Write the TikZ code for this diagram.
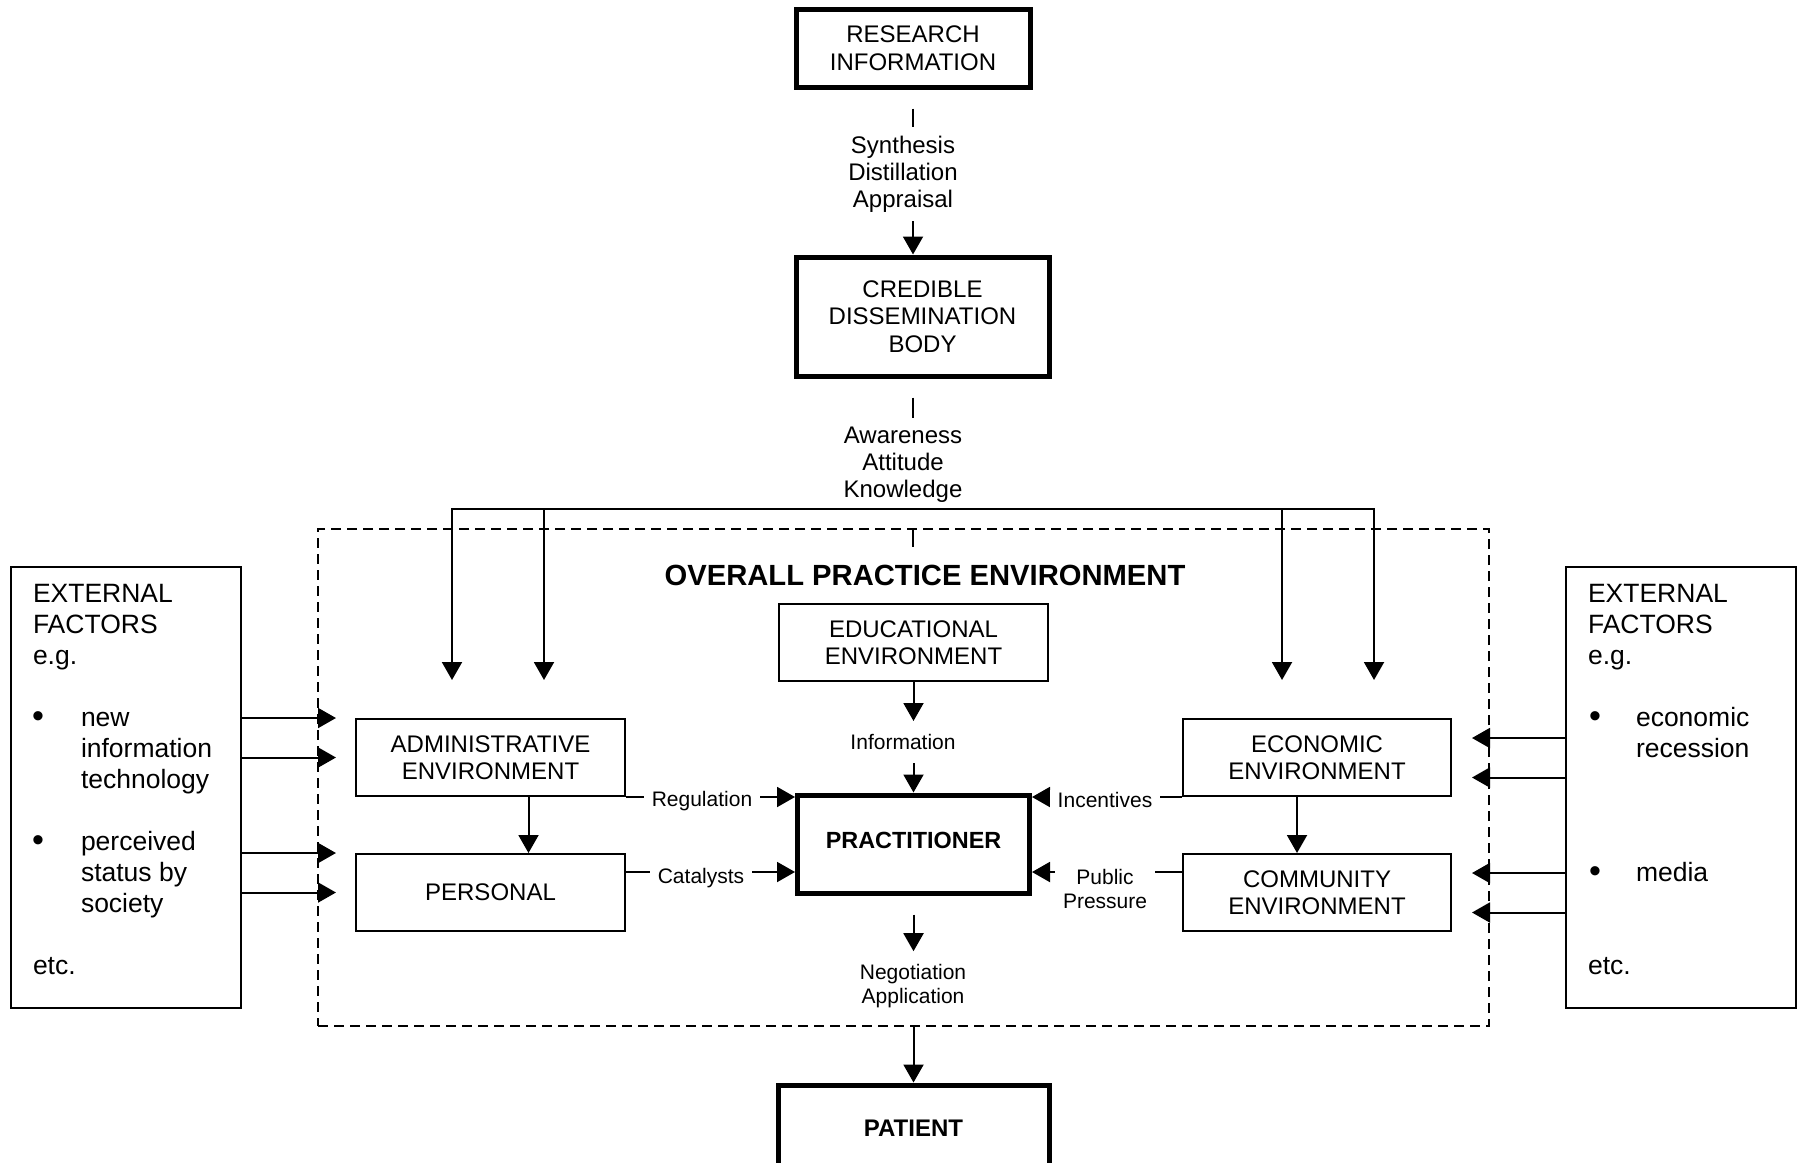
\documentclass[tikz,border=0pt]{standalone}
\usepackage{fontspec}
\setmainfont{Liberation Sans}
\usetikzlibrary{arrows.meta}

\begin{document}
\begin{tikzpicture}[x=0.5pt,y=-0.5pt,
  line width=1pt,
  arr/.style={-{Triangle[length=9pt,width=10pt]}},
  boxfont/.style={font=\fontsize{12}{13.75}\selectfont},
  thinbox/.style={draw, line width=1pt, align=center, inner sep=0pt, boxfont},
  thickbox/.style={draw, line width=2.5pt, align=center, inner sep=0pt, boxfont},
  vlab/.style={fill=white, align=center, inner xsep=4pt, inner ysep=4.5pt,
               font=\fontsize{12}{13.5}\selectfont},
  hlab/.style={fill=white, align=center, inner xsep=4pt, inner ysep=1pt,
               font=\fontsize{10.5}{12}\selectfont},
  extbox/.style={draw, line width=1pt, minimum width=115pt, minimum height=220.5pt},
  ext/.style={font=\fontsize{13.25}{15.5}\selectfont, inner sep=0pt, anchor=base west},
  bul/.style={font=\fontsize{17}{15.5}\selectfont, inner sep=0pt, anchor=base},
]
\useasboundingbox (0,0) rectangle (1802,1162);

% ---------- top chain ----------
\node[thickbox, minimum width=117pt, minimum height=39pt] (research) at (913,48)
  {RESEARCH\\INFORMATION};
\node[thickbox, minimum width=126.5pt, minimum height=59.5pt] (credible) at (922.5,316.5)
  {CREDIBLE\\DISSEMINATION\\BODY};

\draw[arr, shorten <=9.5pt] (research.south) -- (research.south |- credible.north);
\node[vlab] (synth) at (903,174) {Synthesis\\Distillation\\Appraisal};

% distribution bar
\coordinate (barL) at (452,509);
\coordinate (barR) at (1374,509);
\coordinate (downA) at (452,680);
\coordinate (downB) at (544,680);
\coordinate (downC) at (1282,680);
\coordinate (downD) at (1374,680);

\draw[shorten <=9.5pt] (credible.south -| research.south) -- (research.south |- barL);
\node[vlab] (aware) at (903,465) {Awareness\\Attitude\\Knowledge};

\draw[arr] (barR) -- (barL) -- (downA);
\draw[arr] (barL) -- (barR) -- (downD);
\draw[arr] (downB |- barL) -- (downB);
\draw[arr] (downC |- barL) -- (downC);

% ---------- practice environment ----------
\node[draw, dashed, dash pattern=on 5pt off 3pt, line width=0.9pt,
      minimum width=585.5pt, minimum height=248.5pt, inner sep=0pt] (env) at (903.5,777.5) {};
\coordinate (tk) at (913,547);
\draw (env.north -| tk) -- (tk);
\node[font=\bfseries\fontsize{14.6}{17}\selectfont, inner sep=0pt] (title) at (925,575)
  {OVERALL PRACTICE ENVIRONMENT};

\node[thinbox, minimum width=134.5pt, minimum height=38.5pt] (edu) at (913.5,642.5)
  {EDUCATIONAL\\ENVIRONMENT};
\node[thickbox, font=\bfseries\fontsize{11.7}{13.75}\selectfont, text depth=4pt,
      minimum width=116pt, minimum height=49pt] (prac) at (913.5,844) {PRACTITIONER};

\node[hlab, fill=none, minimum height=20pt, inner ysep=0pt] (info) at (903,742) {Information};
\draw[arr] (edu.south) -- (edu.south |- info.north);
\draw[arr] (edu.south |- info.south) -- (prac.north);

\node[thinbox, minimum width=134.5pt, minimum height=38.5pt] (admin) at (490.5,757.5)
  {ADMINISTRATIVE\\ENVIRONMENT};
\node[thinbox, minimum width=134.5pt, minimum height=38.5pt] (personal) at (490.5,892.5)
  {PERSONAL};
\node[thinbox, minimum width=134pt, minimum height=38.5pt] (econ) at (1317,757.5)
  {ECONOMIC\\ENVIRONMENT};
\node[thinbox, minimum width=134pt, minimum height=38.5pt] (comm) at (1317,892.5)
  {COMMUNITY\\ENVIRONMENT};

\draw[arr] ([xshift=19pt]admin.south) -- ([xshift=19pt]personal.north);
\draw[arr] ([xshift=-10pt]econ.south) -- ([xshift=-10pt]comm.north);

% influences on the practitioner
\draw[arr] (admin.south east) -- (admin.south east -| prac.west);
\node[hlab] (regul) at (702,801) {Regulation};

\draw[arr] ([yshift=-9.5pt]personal.north east) coordinate (cat) -- (cat -| prac.west);
\node[hlab] (catal) at (701,878) {Catalysts};

\draw[arr] (econ.south west) -- (econ.south west -| prac.east);
\node[hlab] (incent) at (1105,800) {Incentives};

\draw[arr] ([yshift=-9.5pt]comm.north west) coordinate (pub) -- (pub -| prac.east);
\node[hlab] (public) at (1105,889) {Public\\Pressure};

% output to the patient
\node[hlab, fill=none, inner ysep=6pt] (nego) at (913,986) {Negotiation\\Application};
\draw[arr, shorten <=9.5pt] (prac.south) -- (prac.south |- nego.north);

\node[thickbox, font=\bfseries\fontsize{12}{13.75}\selectfont,
      minimum width=135.5pt, minimum height=43pt] (patient) at (913.5,1128) {PATIENT};
\draw[arr] (env.south -| patient.north) -- (patient.north);

% ---------- external factors, left ----------
\node[extbox] (lext) at (126,787.5) {};
\node[ext] (lt1) at (32,602) {EXTERNAL};
\node[ext] (lt2) at (32,633) {FACTORS};
\node[ext] (lt3) at (32,664) {e.g.};
\node[bul] (lb1) at (38,727) {\textbullet};
\node[ext] (lt4) at (80,726) {new};
\node[ext] (lt5) at (80,757) {information};
\node[ext] (lt6) at (80,788) {technology};
\node[bul] (lb2) at (38,851) {\textbullet};
\node[ext] (lt7) at (80,850) {perceived};
\node[ext] (lt8) at (80,881) {status by};
\node[ext] (lt9) at (80,912) {society};
\node[ext] (lt10) at (32,974) {etc.};

\draw[arr] (lext.east |- admin.north) -- ([xshift=-9.5pt]admin.north west);
\draw[arr] (lext.east |- admin.west) -- ([xshift=-9.5pt]admin.west);
\draw[arr] (lext.east |- personal.north) -- ([xshift=-9.5pt]personal.north west);
\draw[arr] (lext.east |- personal.west) -- ([xshift=-9.5pt]personal.west);

% ---------- external factors, right ----------
\node[extbox] (rext) at (1681,787.5) {};
\node[ext] (rt1) at (1587,602) {EXTERNAL};
\node[ext] (rt2) at (1587,633) {FACTORS};
\node[ext] (rt3) at (1587,664) {e.g.};
\node[bul] (rb1) at (1595,727) {\textbullet};
\node[ext] (rt4) at (1635,726) {economic};
\node[ext] (rt5) at (1635,757) {recession};
\node[bul] (rb2) at (1595,882) {\textbullet};
\node[ext] (rt6) at (1635,881) {media};
\node[ext] (rt7) at (1587,974) {etc.};

\coordinate (r1) at ([xshift=10pt,yshift=-10pt]econ.north east);
\coordinate (r2) at ([xshift=10pt,yshift=-10pt]econ.east);
\coordinate (r3) at ([xshift=10pt,yshift=-10pt]comm.north east);
\coordinate (r4) at ([xshift=10pt,yshift=-10pt]comm.east);
\draw[arr] (rext.west |- r1) -- (r1);
\draw[arr] (rext.west |- r2) -- (r2);
\draw[arr] (rext.west |- r3) -- (r3);
\draw[arr] (rext.west |- r4) -- (r4);
\end{tikzpicture}
\end{document}
